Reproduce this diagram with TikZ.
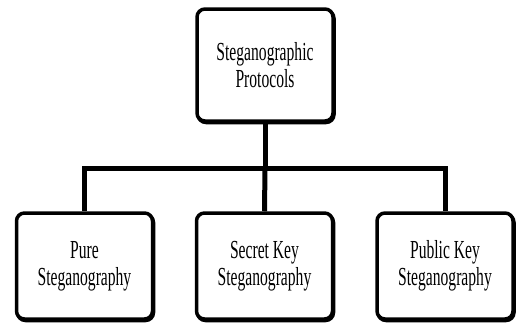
\documentclass[tikz,border=0pt]{standalone}
\usepackage{fontspec}
\setmainfont{Liberation Serif}[FakeStretch=0.6]
\begin{document}
\begin{tikzpicture}[x=1pt,y=-1pt,
  box/.style={draw=black, fill=white, line width=3.5pt, rounded corners=8pt,
    minimum width=136pt, minimum height=106pt, inner sep=0pt, align=center,
    font=\fontsize{26}{27}\selectfont,
    preaction={draw=black, line width=3.5pt, transform canvas={xshift=1pt, yshift=-1.5pt}}},
  link/.style={line width=5pt}]
\useasboundingbox (0,0) rectangle (516,322);
\node[box, minimum height=112pt] (top) at (265,65) {Steganographic\\Protocols};
\node[box] (pure) at (84.5,266) {Pure\\Steganography};
\node[box] (secret) at (264.5,266) {Secret Key\\Steganography};
\node[box] (public) at (445,266) {Public Key\\Steganography};
\coordinate (bar) at (265,168);
\draw[link] (top.south) -- (bar);
\draw[link] (pure.north) |- (bar) -| (public.north);
\draw[link] (bar) -- (secret.north);
\end{tikzpicture}
\end{document}
